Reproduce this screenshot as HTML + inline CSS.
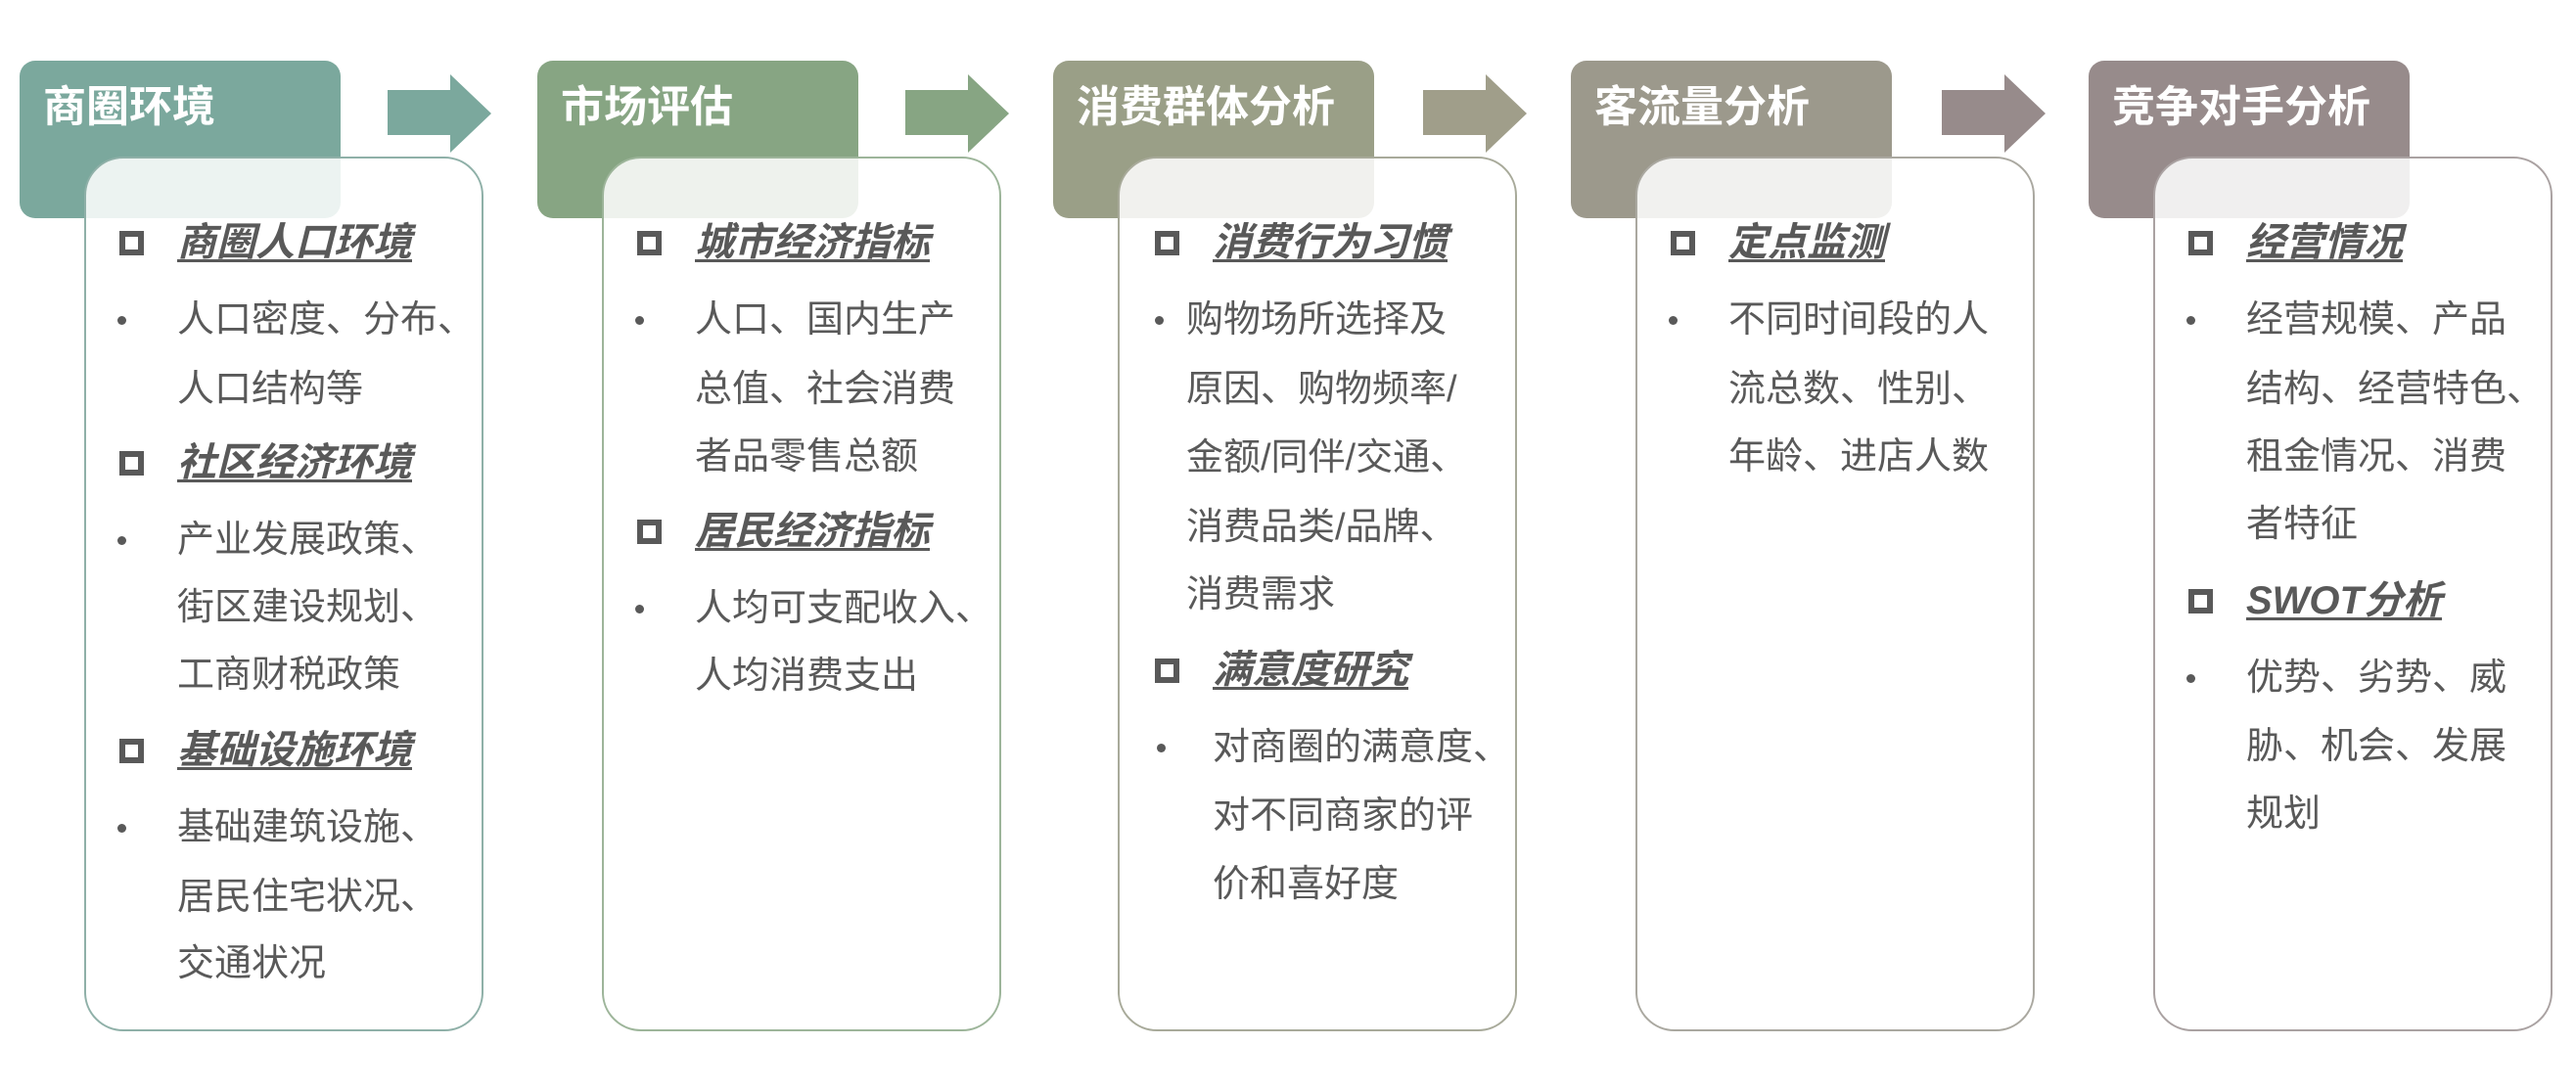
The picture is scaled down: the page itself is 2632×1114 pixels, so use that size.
<!DOCTYPE html>
<html><head><meta charset="utf-8"><style>
*{margin:0;padding:0;box-sizing:border-box}
body{width:2632px;height:1114px;background:#fff;position:relative;overflow:hidden;font-family:"Liberation Sans","Noto Sans CJK SC",sans-serif;color:#595959}
.col{position:absolute;top:0;width:520px;height:1114px}
.hd{position:absolute;left:0;top:62px;width:328px;height:161px;border-radius:16px}
.ht{position:absolute;left:24px;top:82px;font-size:44px;font-weight:bold;color:#fff;line-height:56px;white-space:nowrap}
.bx{position:absolute;left:66px;top:160px;width:408px;height:894px;border-radius:40px;background:rgba(255,255,255,0.86);border:2px solid}
.l{position:absolute;height:72px;line-height:72px;white-space:nowrap;font-size:38px}
.s{font-size:40px;font-weight:bold;font-style:italic;text-decoration:underline;text-decoration-thickness:3px;text-underline-offset:4px;color:#595959}
.sq{position:absolute;width:25px;height:25px;border:6px solid #595959}
.bu{position:absolute;width:9px;height:9px;border-radius:50%;background:#595959}
.ar{position:absolute;top:76px}
</style></head><body>

<svg class="ar" style="left:396px" width="106" height="80"><polygon points="0,16 64,16 64,0 106,40 64,80 64,62 0,62" fill="#7ba89d"/></svg>
<svg class="ar" style="left:925px" width="106" height="80"><polygon points="0,16 64,16 64,0 106,40 64,80 64,62 0,62" fill="#87a583"/></svg>
<svg class="ar" style="left:1454px" width="106" height="80"><polygon points="0,16 64,16 64,0 106,40 64,80 64,62 0,62" fill="#a09e8a"/></svg>
<svg class="ar" style="left:1984px" width="106" height="80"><polygon points="0,16 64,16 64,0 106,40 64,80 64,62 0,62" fill="#978b8b"/></svg>

<div class="col" style="left:20px">
<div class="hd" style="background:#7ba89d"></div>
<div class="ht">商圈环境</div>
<div class="bx" style="border-color:#8fb0a8"></div>
<div class="sq" style="left:102px;top:236px"></div><div class="l s" style="left:161px;top:212px">商圈人口环境</div>
<div class="bu" style="left:100px;top:323px"></div>
<div class="l" style="left:161px;top:291px">人口密度、分布、</div>
<div class="l" style="left:161px;top:362px">人口结构等</div>
<div class="sq" style="left:102px;top:461px"></div><div class="l s" style="left:161px;top:437px">社区经济环境</div>
<div class="bu" style="left:100px;top:548px"></div>
<div class="l" style="left:161px;top:516px">产业发展政策、</div>
<div class="l" style="left:161px;top:585px">街区建设规划、</div>
<div class="l" style="left:161px;top:654px">工商财税政策</div>
<div class="sq" style="left:102px;top:755px"></div><div class="l s" style="left:161px;top:731px">基础设施环境</div>
<div class="bu" style="left:100px;top:842px"></div>
<div class="l" style="left:161px;top:810px">基础建筑设施、</div>
<div class="l" style="left:161px;top:881px">居民住宅状况、</div>
<div class="l" style="left:161px;top:949px">交通状况</div>
</div>

<div class="col" style="left:549px">
<div class="hd" style="background:#87a583"></div>
<div class="ht">市场评估</div>
<div class="bx" style="border-color:#9db59a"></div>
<div class="sq" style="left:102px;top:236px"></div><div class="l s" style="left:161px;top:212px">城市经济指标</div>
<div class="bu" style="left:100px;top:323px"></div>
<div class="l" style="left:161px;top:291px">人口、国内生产</div>
<div class="l" style="left:161px;top:362px">总值、社会消费</div>
<div class="l" style="left:161px;top:431px">者品零售总额</div>
<div class="sq" style="left:102px;top:531px"></div><div class="l s" style="left:161px;top:507px">居民经济指标</div>
<div class="bu" style="left:100px;top:618px"></div>
<div class="l" style="left:161px;top:586px">人均可支配收入、</div>
<div class="l" style="left:161px;top:655px">人均消费支出</div>
</div>

<div class="col" style="left:1076px">
<div class="hd" style="background:#9a9f87"></div>
<div class="ht">消费群体分析</div>
<div class="bx" style="border-color:#a8aa9a"></div>
<div class="sq" style="left:104px;top:236px"></div><div class="l s" style="left:163px;top:212px">消费行为习惯</div>
<div class="bu" style="left:104px;top:323px"></div>
<div class="l" style="left:136px;top:291px">购物场所选择及</div>
<div class="l" style="left:136px;top:362px">原因、购物频率/</div>
<div class="l" style="left:136px;top:432px">金额/同伴/交通、</div>
<div class="l" style="left:136px;top:503px">消费品类/品牌、</div>
<div class="l" style="left:136px;top:572px">消费需求</div>
<div class="sq" style="left:104px;top:673px"></div><div class="l s" style="left:163px;top:649px">满意度研究</div>
<div class="bu" style="left:106px;top:760px"></div>
<div class="l" style="left:163px;top:728px">对商圈的满意度、</div>
<div class="l" style="left:163px;top:798px">对不同商家的评</div>
<div class="l" style="left:163px;top:868px">价和喜好度</div>
</div>

<div class="col" style="left:1605px">
<div class="hd" style="background:#9c998c"></div>
<div class="ht">客流量分析</div>
<div class="bx" style="border-color:#aaa8a0"></div>
<div class="sq" style="left:102px;top:236px"></div><div class="l s" style="left:161px;top:212px">定点监测</div>
<div class="bu" style="left:100px;top:323px"></div>
<div class="l" style="left:161px;top:291px">不同时间段的人</div>
<div class="l" style="left:161px;top:362px">流总数、性别、</div>
<div class="l" style="left:161px;top:431px">年龄、进店人数</div>
</div>

<div class="col" style="left:2134px">
<div class="hd" style="background:#978b8b"></div>
<div class="ht">竞争对手分析</div>
<div class="bx" style="border-color:#aaa2a2"></div>
<div class="sq" style="left:102px;top:236px"></div><div class="l s" style="left:161px;top:212px">经营情况</div>
<div class="bu" style="left:100px;top:323px"></div>
<div class="l" style="left:161px;top:291px">经营规模、产品</div>
<div class="l" style="left:161px;top:362px">结构、经营特色、</div>
<div class="l" style="left:161px;top:431px">租金情况、消费</div>
<div class="l" style="left:161px;top:500px">者特征</div>
<div class="sq" style="left:102px;top:602px"></div><div class="l s" style="left:161px;top:578px">SWOT分析</div>
<div class="bu" style="left:100px;top:689px"></div>
<div class="l" style="left:161px;top:657px">优势、劣势、威</div>
<div class="l" style="left:161px;top:727px">胁、机会、发展</div>
<div class="l" style="left:161px;top:796px">规划</div>
</div>

</body></html>
